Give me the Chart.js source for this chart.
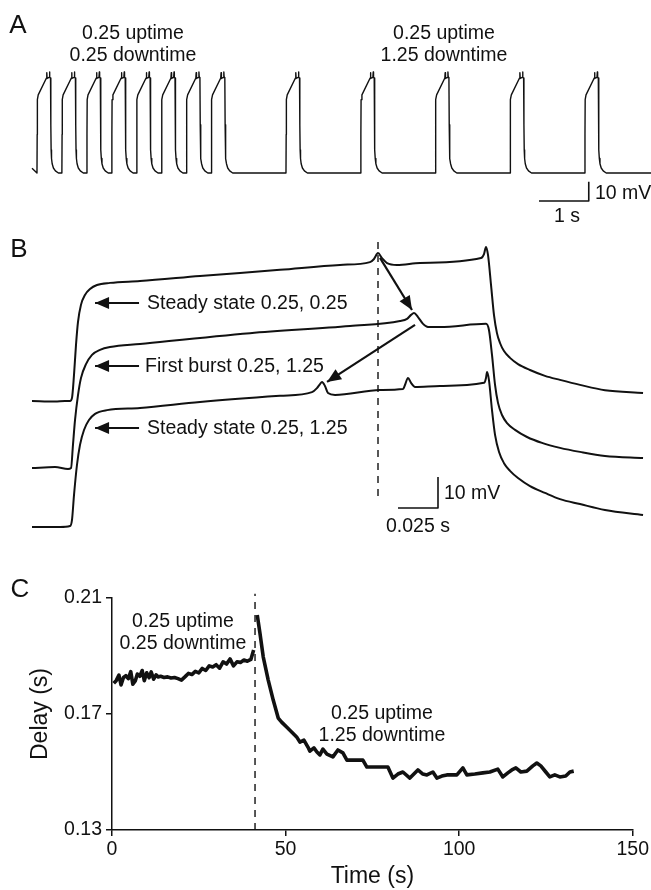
<!DOCTYPE html>
<html><head><meta charset="utf-8">
<script src="https://cdn.jsdelivr.net/npm/chart.js@4.4.1/dist/chart.umd.min.js"></script>
<style>
html,body{margin:0;padding:0;background:#fff;}
body{width:651px;height:890px;position:relative;overflow:hidden;font-family:"Liberation Sans",Arial,Helvetica,sans-serif;color:#111;}
canvas{position:absolute;left:0;}
.t{position:absolute;white-space:nowrap;font-size:19.5px;line-height:1;transform:translate(-50%,-50%);}
.l{position:absolute;white-space:nowrap;font-size:19.5px;line-height:1;transform:translate(0,-50%);}
.p{position:absolute;font-size:26px;line-height:1;transform:translate(-50%,-50%);}
</style></head><body>
<canvas id="ca" width="651" height="230" style="top:0"></canvas>
<canvas id="cb" width="651" height="330" style="top:220px"></canvas>
<canvas id="cc" width="651" height="330" style="top:560px"></canvas>

<div class="p" style="left:18px;top:24px">A</div>
<div class="t" style="left:133px;top:33px">0.25 uptime</div>
<div class="t" style="left:133px;top:55px">0.25 downtime</div>
<div class="t" style="left:444px;top:33px">0.25 uptime</div>
<div class="t" style="left:444px;top:55px">1.25 downtime</div>
<div class="l" style="left:595px;top:193px">10 mV</div>
<div class="t" style="left:567px;top:216px">1 s</div>

<div class="p" style="left:19px;top:248px">B</div>
<div class="l" style="left:147px;top:303px">Steady state 0.25, 0.25</div>
<div class="l" style="left:145px;top:366px">First burst 0.25, 1.25</div>
<div class="l" style="left:147px;top:428px">Steady state 0.25, 1.25</div>
<div class="l" style="left:444px;top:493px">10 mV</div>
<div class="t" style="left:418px;top:526px">0.025 s</div>

<div class="p" style="left:20px;top:588px">C</div>
<div class="t" style="left:183px;top:621px">0.25 uptime</div>
<div class="t" style="left:183px;top:643px">0.25 downtime</div>
<div class="t" style="left:382px;top:713px">0.25 uptime</div>
<div class="t" style="left:382px;top:735px">1.25 downtime</div>

<script>
// ---------- Panel A data (time in s, voltage in mV relative to baseline) ----------
const burstOnsetsA = [0.1, 0.6, 1.1, 1.6, 2.1, 2.6, 3.1, 3.6, 5.1, 6.6, 8.1, 9.6, 11.1];
const burstShapeT = [0, 0.004, 0.008, 0.025, 0.19, 0.197, 0.203, 0.245, 0.252, 0.258, 0.272, 0.278, 0.284, 0.292, 0.305, 0.33, 0.37, 0.43];
const burstShapeV = [0, 20, 38, 40.5, 49.2, 52, 49, 49.5, 52.3, 49.5, 49.2, 25, 12, 7.5, 4.8, 2.6, 1.1, 0];
const traceAStart = [0, 2.5];
const traceAEnd = [12.43, 0];
const scaleBarA_T = [10.18, 11.18, 11.18];
const scaleBarA_V = [-14.5, -14.5, -4.5];

// ---------- Panel B data (time in ms, voltage in mV relative to each trace's baseline) ----------
const b1T = [-5, 9.4, 15.6, 18.75, 20, 21.25, 22.5, 23.75, 25.6, 28.1, 31.25, 35.6, 43.75, 62.5, 100, 150, 187.5, 206.25, 208.75, 211.25, 213.75, 216.9, 223.1, 237.5, 275.6, 277.5, 278.75, 280, 281.9, 283.75, 285.6, 287.5, 290, 293.75, 298.75, 306.25, 315.6, 325, 337.5, 353.1, 376.9];
const b1V = [0, -0.2, 0, 0, 1.0, 8.4, 18.1, 25.5, 31.0, 34.2, 36.1, 37.4, 38.1, 38.7, 40.3, 42.3, 43.9, 44.8, 45.8, 47.7, 46.1, 44.5, 43.9, 44.5, 46.1, 47.4, 49.7, 47.1, 37.4, 27.7, 21.9, 18.7, 16.1, 13.9, 11.9, 10.0, 8.1, 6.8, 5.2, 3.5, 2.6];
const b2T = [-5, 9.4, 17.5, 19.4, 20.6, 21.9, 23.75, 25.6, 28.75, 32.5, 37.5, 43.75, 62.5, 131.25, 193.75, 225, 229.4, 231.9, 233.75, 236.25, 239.4, 242.5, 250, 278.75, 280.6, 282.5, 284.4, 286.25, 288.75, 291.9, 296.9, 304.4, 313.75, 325, 337.5, 353.1, 376.9];
const b2V = [0, 0.3, -0.3, 0, 7.4, 15.5, 23.5, 29.0, 33.5, 36.5, 38.1, 39.0, 40.0, 43.5, 45.8, 47.4, 48.1, 49.4, 50.0, 48.7, 46.5, 45.5, 45.5, 46.5, 44.5, 36.5, 26.8, 21.0, 17.1, 14.5, 12.3, 10.0, 8.1, 6.5, 5.2, 3.9, 3.2];
const b3T = [-5, 12.5, 18.75, 20, 21.25, 23.1, 25, 27.5, 30.6, 34.4, 41.9, 62.5, 100, 150, 170, 173.1, 175, 176.25, 178.1, 180, 184.4, 212.5, 226.9, 228.1, 230, 231.9, 234.4, 250, 277.5, 278.75, 279.4, 280.6, 282.5, 284.4, 286.9, 290, 293.75, 298.75, 306.25, 315.6, 325, 337.5, 353.1, 376.9];
const b3V = [0, 0, 0.3, 2.3, 10.3, 20.0, 26.5, 31.3, 34.5, 36.5, 37.7, 38.4, 40.3, 42.3, 43.5, 44.8, 46.1, 46.8, 45.5, 43.2, 42.6, 44.2, 44.5, 45.8, 48.1, 46.5, 45.2, 45.5, 46.5, 48.1, 50.0, 47.4, 37.7, 29.7, 24.2, 20.6, 18.1, 15.8, 13.2, 11.0, 9.0, 7.4, 5.5, 3.9];
const markerTimeB = 211.25;
const scaleBarB_T = [223.75, 248.75, 248.75];
const scaleBarB_V = [6.13, 6.13, 16.13];

// ---------- Panel C data ----------
const cTimeBefore = [0.5,1.2,2.0,2.6,3.3,4.0,4.7,5.4,6.0,6.7,7.3,8.0,8.7,9.3,10.0,10.7,11.3,12.0,12.7,13.3,14.0,15.0,16.0,17.0,18.0,19.0,20.0,21.0,22.0,23.0,24.0,25.0,26.0,27.0,28.0,29.0,30.0,31.0,32.0,33.0,34.0,35.0,36.0,37.0,38.0,39.0,40.0,40.8];
const cDelayBefore = [0.1806,0.1815,0.1834,0.1800,0.1826,0.1832,0.1822,0.1846,0.1803,0.1814,0.1838,0.1830,0.1850,0.1815,0.1842,0.1825,0.1845,0.1820,0.1835,0.1828,0.1830,0.1826,0.1828,0.1824,0.1826,0.1822,0.1817,0.1828,0.1840,0.1836,0.1847,0.1842,0.1857,0.1850,0.1866,0.1862,0.1870,0.1858,0.1880,0.1872,0.1890,0.1866,0.1880,0.1878,0.1886,0.1882,0.1888,0.1921];
const cTimeAfter = [41.84,42.61,43.56,45.00,46.44,47.88,48.86,50.30,51.74,53.18,54.13,55.28,56.44,57.01,58.16,59.03,59.89,60.75,61.91,63.63,65.07,66.51,67.67,69.97,72.27,73.42,77.17,79.47,80.91,82.35,83.79,85.80,88.11,89.55,90.70,92.43,93.58,95.02,96.46,99.34,101.07,102.22,104.52,106.82,108.84,111.14,112.58,114.02,115.17,116.33,117.77,119.49,121.22,122.37,123.52,124.96,126.11,127.55,129.0,130.7,131.9,133.0];
const cDelayAfter = [0.2041,0.1979,0.1897,0.1817,0.1748,0.1686,0.1672,0.1655,0.1638,0.1621,0.1603,0.1610,0.1586,0.1572,0.1583,0.1569,0.1559,0.1579,0.1562,0.1552,0.1576,0.1566,0.1541,0.1541,0.1541,0.1517,0.1517,0.1517,0.1479,0.1493,0.1500,0.1479,0.1507,0.1493,0.1490,0.1500,0.1479,0.1486,0.1490,0.1490,0.1514,0.1490,0.1493,0.1497,0.1500,0.1510,0.1483,0.1497,0.1507,0.1514,0.1500,0.1503,0.1521,0.1531,0.1521,0.1500,0.1483,0.1490,0.1483,0.1486,0.1500,0.1503];
const switchTimeC = 41.2;
const cXTicks = [0, 50, 100, 150];
const cYTicks = [0.13, 0.17, 0.21];

// ---------- helpers ----------
const INK = '#111';
const FONT = '"Liberation Sans", Arial, Helvetica, sans-serif';
Chart.defaults.font.family = FONT;
Chart.defaults.color = INK;
const zip = (xs, ys, off = 0) => xs.map((x, i) => ({x, y: ys[i] + off}));
const baseOpts = (xmin, xmax, ymin, ymax) => ({
  responsive: false, animation: false, events: [],
  layout: {padding: 0},
  plugins: {legend: {display: false}, tooltip: {enabled: false}},
  elements: {point: {radius: 0}, line: {tension: 0, borderJoinStyle: 'round', borderCapStyle: 'butt'}},
  scales: {
    x: {type: 'linear', display: false, min: xmin, max: xmax},
    y: {type: 'linear', display: false, min: ymin, max: ymax}
  }
});
const lineDs = (data, w, extra = {}) => Object.assign({data, borderColor: INK, borderWidth: w, pointRadius: 0, fill: false}, extra);

const arrowPlugin = {
  id: 'arrowHeads',
  afterDatasetsDraw(chart) {
    const ctx = chart.ctx;
    chart.data.datasets.forEach((ds, i) => {
      if (!ds.arrowHead) return;
      const pts = chart.getDatasetMeta(i).data;
      const a = pts[pts.length - 2], b = pts[pts.length - 1];
      const ang = Math.atan2(b.y - a.y, b.x - a.x);
      const L = 14, W = 6;
      const bx = b.x - L * Math.cos(ang), by = b.y - L * Math.sin(ang);
      ctx.save();
      ctx.fillStyle = INK;
      ctx.beginPath();
      ctx.moveTo(b.x, b.y);
      ctx.lineTo(bx + W * Math.sin(ang), by - W * Math.cos(ang));
      ctx.lineTo(bx - W * Math.sin(ang), by + W * Math.cos(ang));
      ctx.closePath();
      ctx.fill();
      ctx.restore();
    });
  }
};

// ---------- Panel A ----------
const traceA = [{x: traceAStart[0], y: traceAStart[1]}];
burstOnsetsA.forEach(t0 => {
  burstShapeT.forEach((dt, i) => traceA.push({x: t0 + dt, y: burstShapeV[i]}));
});
traceA.push({x: traceAEnd[0], y: traceAEnd[1]});

new Chart(document.getElementById('ca'), {
  type: 'line',
  data: {datasets: [
    lineDs(traceA, 1.4),
    lineDs(zip(scaleBarA_T, scaleBarA_V), 1.6)
  ]},
  options: baseOpts(-32 / 49.8, (651 - 32) / 49.8, (173 - 230) / 1.93, 173 / 1.93)
});

// ---------- Panel B ----------
const traceOffsetsB = [40.65, 19.03, 0];
const smooth = {cubicInterpolationMode: 'monotone'};
new Chart(document.getElementById('cb'), {
  type: 'line',
  data: {datasets: [
    lineDs(zip(b1T, b1V, traceOffsetsB[0]), 2, smooth),
    lineDs(zip(b2T, b2V, traceOffsetsB[1]), 2, smooth),
    lineDs(zip(b3T, b3V, traceOffsetsB[2]), 2, smooth),
    lineDs([{x: markerTimeB, y: 91.9}, {x: markerTimeB, y: 9.7}], 1.4, {borderDash: [7, 6]}),
    lineDs(zip(scaleBarB_T, scaleBarB_V), 1.6),
    lineDs([{x: 61.9, y: 72.26}, {x: 34.4, y: 72.26}], 2.2, {arrowHead: true}),
    lineDs([{x: 61.9, y: 51.94}, {x: 34.4, y: 51.94}], 2.2, {arrowHead: true}),
    lineDs([{x: 61.9, y: 31.94}, {x: 34.4, y: 31.94}], 2.2, {arrowHead: true}),
    lineDs([{x: 212.5, y: 86.8}, {x: 232.5, y: 70.0}], 2.2, {arrowHead: true}),
    lineDs([{x: 234.4, y: 65.2}, {x: 179.4, y: 46.8}], 2.2, {arrowHead: true})
  ]},
  options: baseOpts(-25, (651 - 40) / 1.6, -(330 - 307) / 3.1, 307 / 3.1),
  plugins: [arrowPlugin]
});

// ---------- Panel C ----------
const optsC = baseOpts(0, 150, 0.13, 0.21);
optsC.layout.padding = {top: 38, right: 18, left: 0, bottom: 0};
optsC.scales.x = {
  type: 'linear', min: 0, max: 150, display: true,
  afterBuildTicks: s => { s.ticks = cXTicks.map(v => ({value: v})); },
  afterFit: s => { s.height = 60; },
  ticks: {color: INK, font: {size: 19.5}, padding: 2, maxRotation: 0, callback: v => String(v)},
  grid: {display: true, drawOnChartArea: false, drawTicks: true, tickLength: 6, color: INK, lineWidth: 1.5},
  border: {display: true, color: INK, width: 1.5},
  title: {display: true, text: 'Time (s)', color: INK, font: {size: 23}, padding: {top: 0, bottom: 0}}
};
optsC.scales.y = {
  type: 'linear', min: 0.13, max: 0.21, display: true,
  afterBuildTicks: s => { s.ticks = cYTicks.map(v => ({value: v})); },
  afterFit: s => { s.width = 112; },
  ticks: {color: INK, font: {size: 19.5}, padding: 4, callback: v => Number(v).toFixed(2)},
  grid: {display: true, drawOnChartArea: false, drawTicks: true, tickLength: 6, color: INK, lineWidth: 1.5},
  border: {display: true, color: INK, width: 1.5},
  title: {display: true, text: 'Delay (s)', color: INK, font: {size: 23}, padding: {top: 27, bottom: 0}}
};
new Chart(document.getElementById('cc'), {
  type: 'line',
  data: {datasets: [
    lineDs(zip(cTimeBefore, cDelayBefore), 3.6),
    lineDs(zip(cTimeAfter, cDelayAfter), 3.6),
    lineDs([{x: switchTimeC, y: 0.13}, {x: switchTimeC, y: 0.2115}], 1.4, {borderDash: [7, 6], clip: false})
  ]},
  options: optsC
});
</script>
</body></html>
